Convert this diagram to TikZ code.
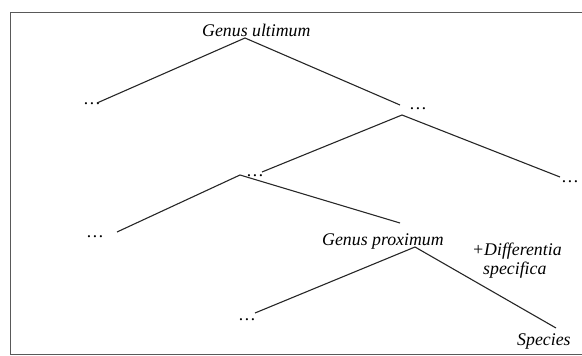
\documentclass[tikz,border=0pt]{standalone}
\usepackage{fontspec}
\setmainfont{Liberation Serif}
\begin{document}
\begin{tikzpicture}[x=1pt,y=-1pt,
  lbl/.style={font=\fontsize{17.8}{20}\selectfont\itshape, inner sep=0pt, anchor=base west},
  dotsnode/.style={font=\fontsize{17.8}{20}\selectfont, inner sep=0pt, anchor=base},
  branch/.style={line width=1.1pt, black!85},
  frame/.style={line width=0.9pt, black!65}]
\useasboundingbox (0,0) rectangle (582,356);
% frame
\coordinate (f1) at (10,354.5);
\coordinate (f2) at (10,12.5);
\coordinate (f3) at (590,12.5);
\coordinate (f4) at (590,354.5);
\draw[frame] (f4) -- (f1) -- (f2) -- (f3);
% labels
\node[lbl] (gu) at (202,36) {Genus ultimum};
\node[lbl] (gp) at (322,245) {Genus proximum};
\node[lbl] (diff) at (472,255) {+Differentia};
\node[lbl] (spec) at (483,274) {specifica};
\node[lbl] (species) at (517,345) {Species};
% dots
\node[dotsnode] (d1) at (92,104) {…};
\node[dotsnode] (d2) at (418,109) {…};
\node[dotsnode] (d3) at (255,176) {…};
\node[dotsnode] (d4) at (570,182) {…};
\node[dotsnode] (d5) at (95,237) {…};
\node[dotsnode] (d6) at (247,320) {…};
% branch points
\coordinate (A) at (245,38);
\coordinate (A1) at (97,103);
\coordinate (A2) at (400,105);
\coordinate (B) at (402,115);
\coordinate (B1) at (262,172);
\coordinate (B2) at (560,177);
\coordinate (C) at (240,175);
\coordinate (C1) at (117,232);
\coordinate (C2) at (400,223);
\coordinate (D) at (415,247);
\coordinate (D1) at (255,313);
\coordinate (D2) at (556,328);
\draw[branch] (A1) -- (A) -- (A2);
\draw[branch] (B1) -- (B) -- (B2);
\draw[branch] (C1) -- (C) -- (C2);
\draw[branch] (D1) -- (D) -- (D2);
\end{tikzpicture}
\end{document}
